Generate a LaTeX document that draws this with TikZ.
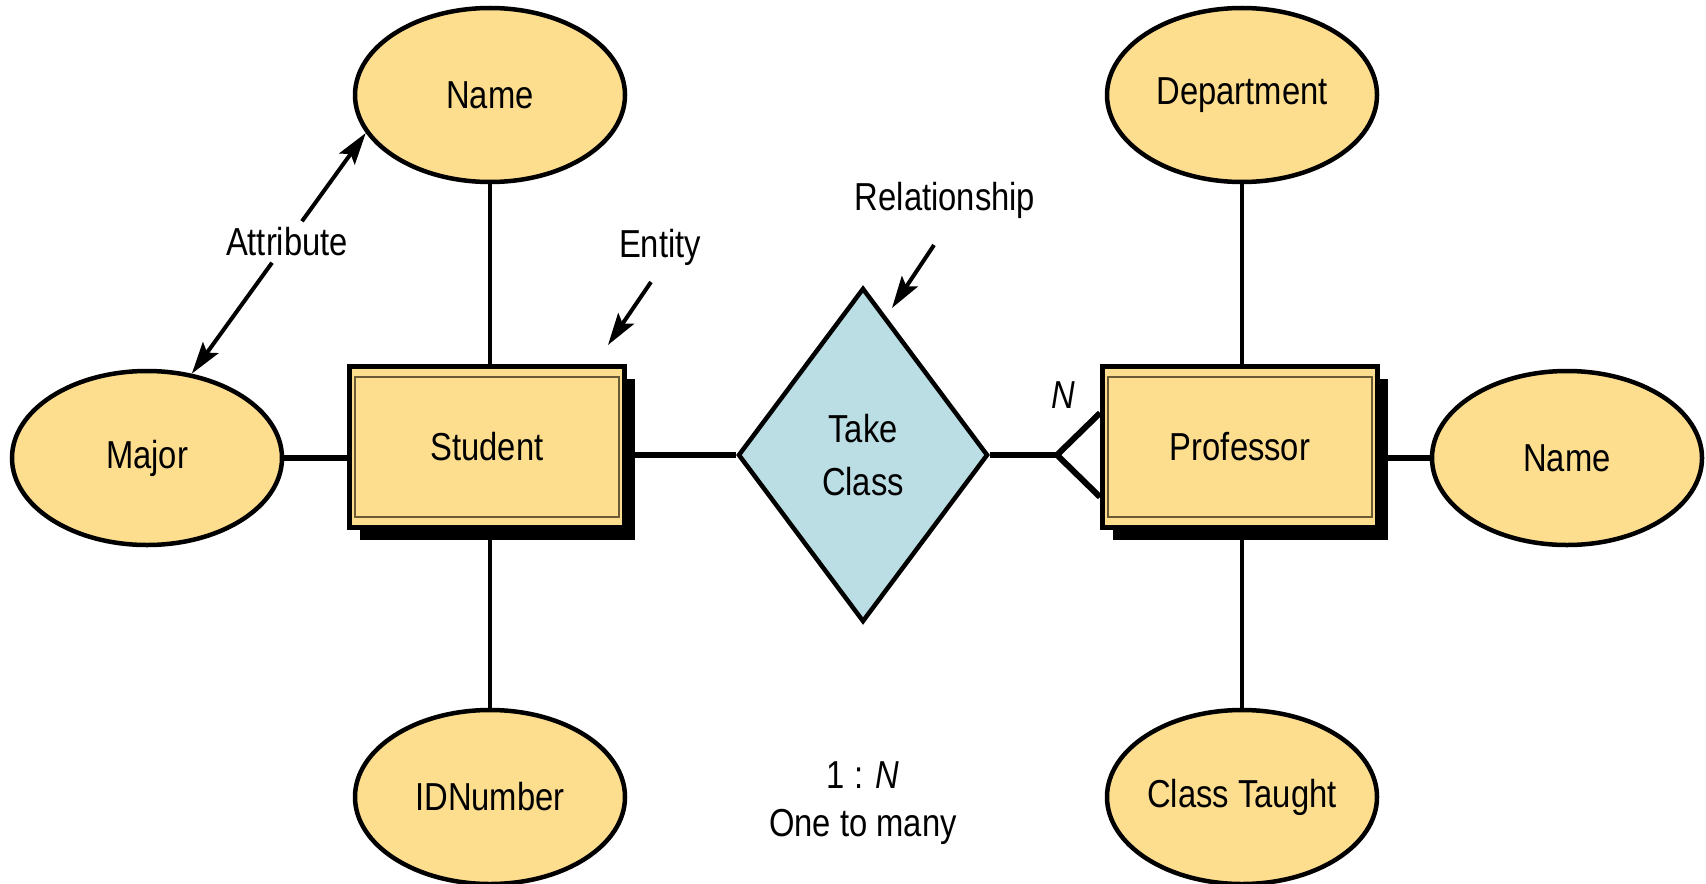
\documentclass[tikz,border=0pt]{standalone}
\usepackage{fontspec}
\setmainfont[FakeStretch=0.84]{Liberation Sans}
\usetikzlibrary{shapes.geometric,shadows,arrows.meta,calc}
\pgfdeclarelayer{bg}
\pgfsetlayers{bg,main}
\definecolor{attrfill}{HTML}{FDDE8F}
\definecolor{relfill}{HTML}{BADEE4}
\definecolor{innerln}{HTML}{6B5A33}
\tikzset{
  txt/.style={font=\fontsize{19.5}{23}\selectfont},
  attr/.style={txt,ellipse,draw=black,line width=2.25pt,fill=attrfill,
    minimum width=135pt,minimum height=87pt,inner sep=0pt},
  ent/.style={txt,rectangle,draw=black,line width=2.5pt,fill=attrfill,
    minimum width=137.5pt,minimum height=80.5pt,inner sep=0pt,
    drop shadow={shadow xshift=5.25pt,shadow yshift=-6.25pt,fill=black,opacity=1}},
  rel/.style={diamond,draw=black,line width=2.25pt,fill=relfill,
    minimum width=125pt,minimum height=167pt,inner sep=0pt,align=center,
    font=\fontsize{19.5}{26.5}\selectfont},
  lbl/.style={txt,inner sep=3pt},
  heavy/.style={line width=3pt},
  thinln/.style={line width=2pt},
  pointer/.style={line width=2pt,-{Stealth[length=16pt,width=9.5pt,inset=3pt]}},
  innerbox/.style={draw=innerln,line width=1pt}
}
\begin{document}
\begin{tikzpicture}[x=0.5pt,y=-0.5pt]
\useasboundingbox (0,0) rectangle (1706,883);

% attributes
\node[attr] (nameL) at (490,95) {Name};
\node[attr] (dept) at (1242,95) {Department};
\node[attr] (major) at (147,458) {Major};
\node[attr] (nameR) at (1567,458) {Name};
\node[attr] (idn) at (490,797) {IDNumber};
\node[attr] (ctaught) at (1242,797) {Class Taught};

% entities
\node[ent] (stu) at (487,447) {Student};
\node[ent] (prof) at (1240,447) {Professor};
\draw[innerbox] ([shift={(4pt,-6.5pt)}]stu.north west) rectangle ([shift={(-4pt,6.5pt)}]stu.south east);
\draw[innerbox] ([shift={(4pt,-6.5pt)}]prof.north west) rectangle ([shift={(-4pt,6.5pt)}]prof.south east);

% relationship
\node[rel] (tc) at (863,455) {Take\\Class};
\coordinate (crow) at (1057,455);

% connectors
\begin{pgfonlayer}{bg}
\fill[white] (0,0) rectangle (1706,883);
\draw[thinln] (nameL.south) -- (nameL.south |- stu.north);
\draw[thinln] (idn.north) -- (idn.north |- stu.south);
\draw[thinln] (dept.south) -- (dept.south |- prof.north);
\draw[thinln] (ctaught.north) -- (ctaught.north |- prof.south);
\draw[heavy] (major.east) -- (major.east -| stu.west);
\draw[heavy] (tc.west -| stu.east) -- (tc.west);
\draw[heavy] (nameR.west -| prof.east) -- (nameR.west);
\draw[heavy] (tc.east) -- (crow);
\draw[heavy] (crow) -- ($(crow -| prof.west)+(0,21pt)$);
\draw[heavy] (crow) -- ($(crow -| prof.west)+(0,-21pt)$);
\end{pgfonlayer}

% labels
\node[lbl] (attrlbl) at (287,242) {Attribute};
\node[lbl] (entlbl) at (660,247) {Entity};
\node[lbl] (rellbl) at (945,200) {Relationship};
\node[lbl] (nlbl) at (1063,395) {\textit{N}};
\node[lbl] (ratio) at (863,775) {1 : \textit{N}};
\node[lbl] (onemany) at (863,827) {One to many};

% pointers
\coordinate (entstart) at (651,282);
\coordinate (enttip) at (608,345);
\coordinate (relstart) at (934,245);
\coordinate (reltip) at (892,308);
\draw[pointer] (attrlbl) -- (nameL.197);
\draw[pointer] (attrlbl) -- (major.62);
\draw[pointer] (entstart) -- (enttip);
\draw[pointer] (relstart) -- (reltip);
\end{tikzpicture}
\end{document}
